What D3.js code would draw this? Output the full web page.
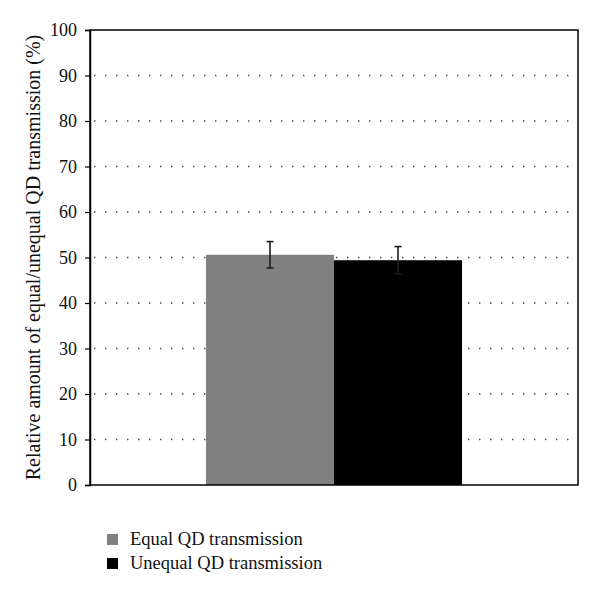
<!DOCTYPE html>
<html>
<head>
<meta charset="utf-8">
<script src="https://cdn.jsdelivr.net/npm/d3@7"></script>
<style>
  body { margin: 0; background: #fff; }
  text { font-family: "Liberation Serif", "DejaVu Serif", serif; fill: #111; }
</style>
</head>
<body>
<div id="chart"></div>
<script>
// values
var categories = ['Equal QD transmission', 'Unequal QD transmission'];
var values = [50.6, 49.4];
var errors = [2.9, 3.0];
var colors = ['#808080', '#000000'];
var yTicks = [0, 10, 20, 30, 40, 50, 60, 70, 80, 90, 100];

var width = 600, height = 598;
var margin = {top: 30, right: 22, bottom: 113, left: 90};
var plotW = width - margin.left - margin.right;
var plotH = height - margin.top - margin.bottom;

var svg = d3.select('#chart').append('svg')
  .attr('width', width)
  .attr('height', height);

var g = svg.append('g')
  .attr('transform', 'translate(' + margin.left + ',' + margin.top + ')');

var y = d3.scaleLinear().domain([0, 100]).range([plotH, 0]);
var x = d3.scaleBand()
  .domain(categories)
  .range([116, 372])
  .padding(0);

// dotted gridlines
g.selectAll('line.grid')
  .data(yTicks.filter(function(d) { return d > 0 && d < 100; }))
  .enter().append('line')
  .attr('class', 'grid')
  .attr('x1', 4)
  .attr('x2', plotW)
  .attr('y1', function(d) { return y(d); })
  .attr('y2', function(d) { return y(d); })
  .attr('stroke', '#444')
  .attr('stroke-width', 1.4)
  .attr('stroke-dasharray', '1.4,9.6');

// bars
g.selectAll('rect.bar')
  .data(categories)
  .enter().append('rect')
  .attr('class', 'bar')
  .attr('x', function(d) { return x(d); })
  .attr('y', function(d, i) { return y(values[i]); })
  .attr('width', x.bandwidth())
  .attr('height', function(d, i) { return plotH - y(values[i]); })
  .attr('fill', function(d, i) { return colors[i]; });

// error bars
var eb = g.selectAll('g.err')
  .data(categories)
  .enter().append('g')
  .attr('class', 'err')
  .attr('stroke', '#1c1c1c')
  .attr('stroke-width', 1.6);
var cx = function(d) { return x(d) + x.bandwidth() / 2; };
eb.append('line')
  .attr('x1', cx).attr('x2', cx)
  .attr('y1', function(d, i) { return y(values[i] + errors[i]); })
  .attr('y2', function(d, i) { return y(values[i] - errors[i]); });
eb.append('line')
  .attr('x1', function(d) { return cx(d) - 3.5; })
  .attr('x2', function(d) { return cx(d) + 3.5; })
  .attr('y1', function(d, i) { return y(values[i] + errors[i]); })
  .attr('y2', function(d, i) { return y(values[i] + errors[i]); });
eb.append('line')
  .attr('x1', function(d) { return cx(d) - 3.5; })
  .attr('x2', function(d) { return cx(d) + 3.5; })
  .attr('y1', function(d, i) { return y(values[i] - errors[i]); })
  .attr('y2', function(d, i) { return y(values[i] - errors[i]); });

// frame
g.append('rect')
  .attr('x', 0).attr('y', 0)
  .attr('width', plotW).attr('height', plotH)
  .attr('fill', 'none')
  .attr('stroke', '#000')
  .attr('stroke-width', 1.5);

// y axis
var yAxis = d3.axisLeft(y)
  .tickValues(yTicks)
  .tickSize(5)
  .tickPadding(8);
var ya = g.append('g').call(yAxis);
ya.select('.domain').attr('stroke', '#000').attr('stroke-width', 1.5);
ya.selectAll('.tick line').attr('stroke', '#000').attr('stroke-width', 1.2);
ya.selectAll('.tick text')
  .style('font-family', '"Liberation Serif", serif')
  .style('font-size', '18px')
  .attr('fill', '#111');

// y axis title
svg.append('text')
  .attr('transform', 'translate(40,' + (margin.top + plotH / 2) + ') rotate(-90)')
  .attr('text-anchor', 'middle')
  .style('font-size', '20px')
  .text('Relative amount of equal/unequal QD transmission (%)');

// legend
var legend = svg.selectAll('g.legend')
  .data(categories)
  .enter().append('g')
  .attr('class', 'legend')
  .attr('transform', function(d, i) { return 'translate(107,' + (534 + i * 24) + ')'; });
legend.append('rect')
  .attr('width', 11).attr('height', 11)
  .attr('fill', function(d, i) { return colors[i]; });
legend.append('text')
  .attr('x', 23)
  .attr('y', 11)
  .style('font-size', '18.5px')
  .text(function(d) { return d; });
</script>
</body>
</html>
